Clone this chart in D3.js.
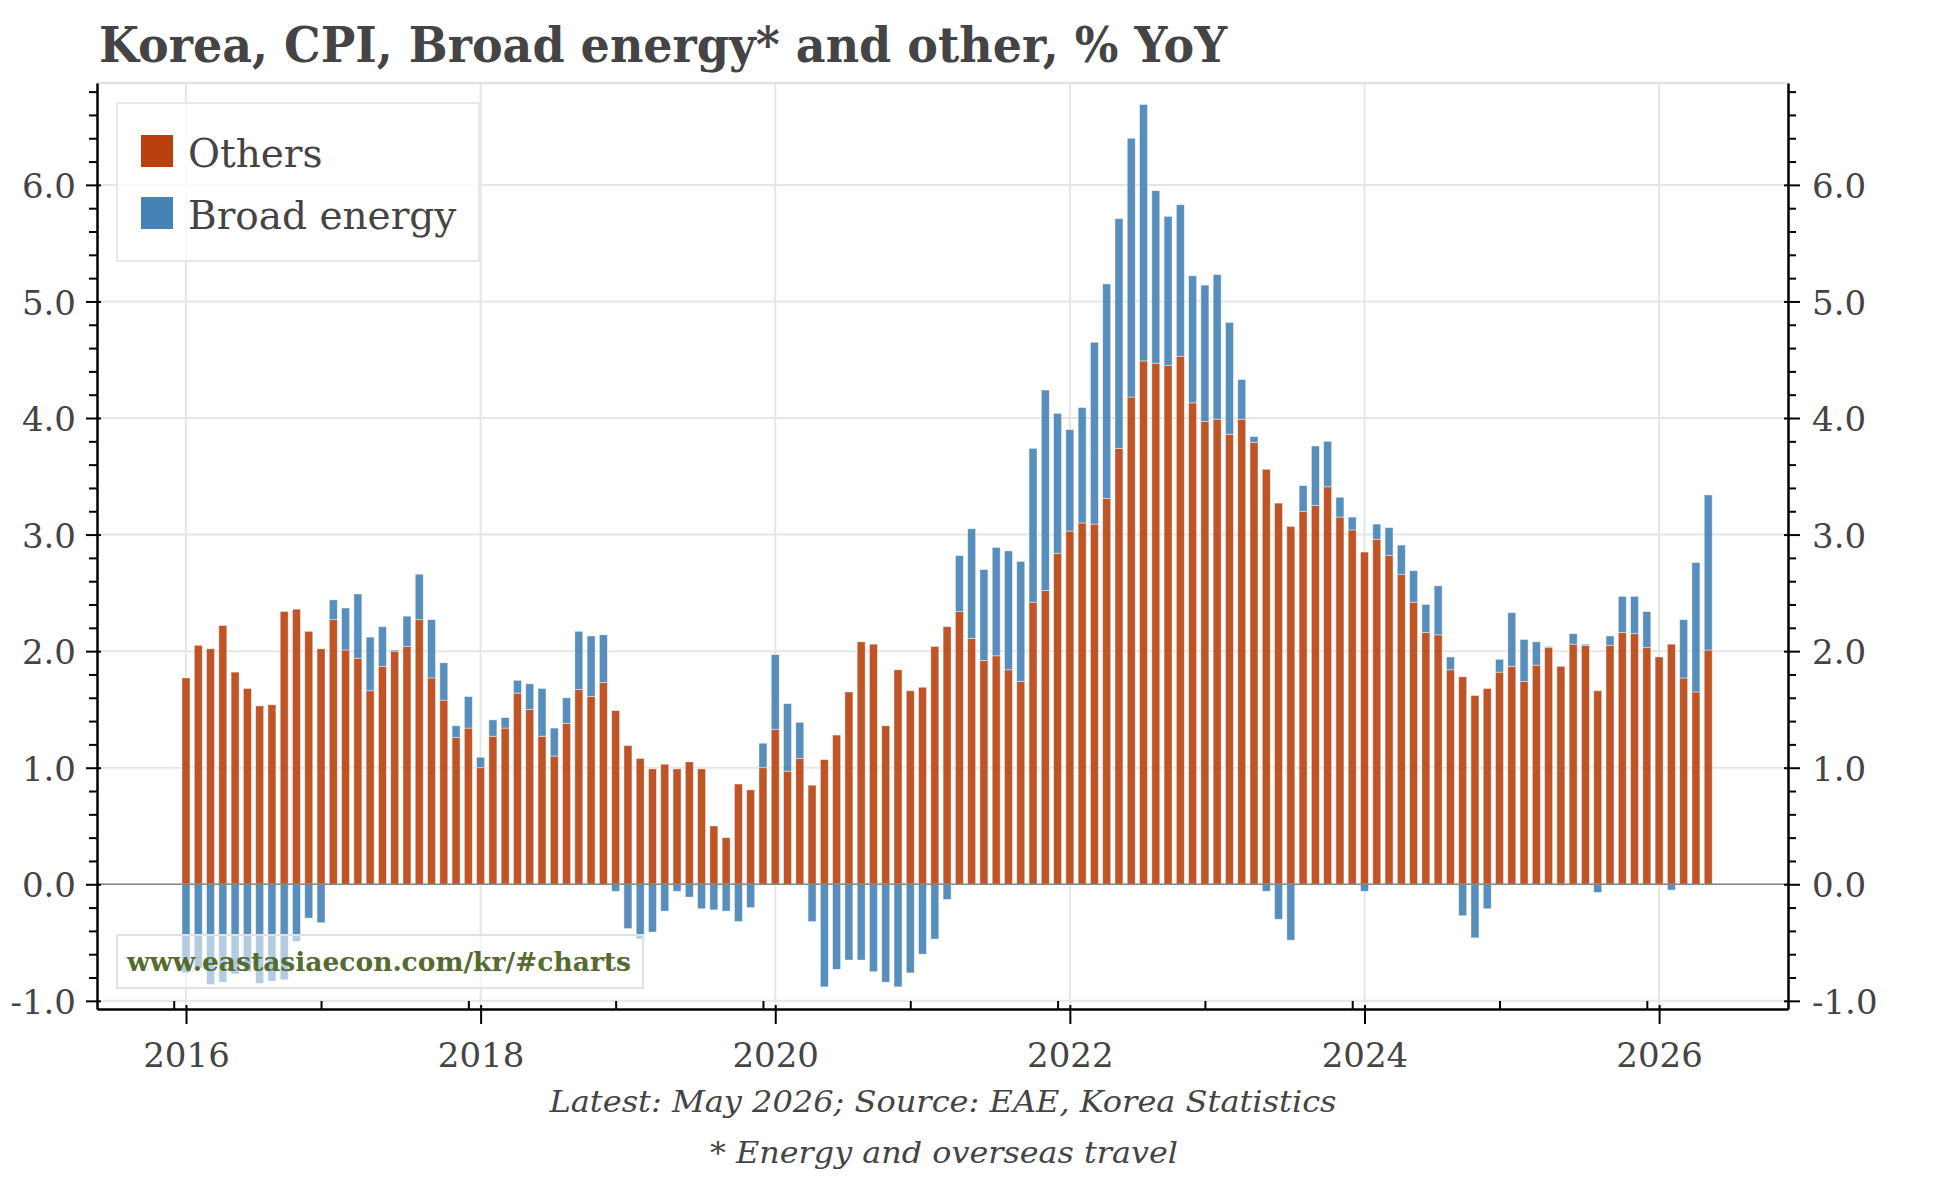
<!DOCTYPE html>
<html><head><meta charset="utf-8">
<script src="https://cdn.jsdelivr.net/npm/d3@7"></script>
<style>
html,body{margin:0;padding:0;background:#fff;}
svg{display:block;}
text{font-family:"DejaVu Serif",Georgia,serif;fill:#444;}
</style></head><body>
<svg id="chart" width="1944" height="1178"></svg>
<script>
// Monthly data, Jan 2016 .. May 2026
const startYear = 2016;
const others = [
  1.77,2.05,2.02,2.22,1.82,1.68,1.53,1.54,2.34,2.36,2.17,2.02,
  2.27,2.01,1.94,1.66,1.87,2.00,2.04,2.27,1.77,1.58,1.26,1.34,
  1.00,1.27,1.34,1.64,1.50,1.27,1.10,1.38,1.67,1.61,1.73,1.49,
  1.19,1.08,0.99,1.03,0.99,1.05,0.99,0.50,0.40,0.86,0.81,1.00,
  1.33,0.97,1.08,0.85,1.07,1.28,1.65,2.08,2.06,1.36,1.84,1.66,
  1.69,2.04,2.21,2.34,2.11,1.92,1.96,1.84,1.74,2.42,2.52,2.84,
  3.03,3.10,3.09,3.31,3.74,4.18,4.49,4.47,4.45,4.53,4.13,3.97,
  3.99,3.86,3.99,3.79,3.56,3.27,3.07,3.20,3.25,3.41,3.15,3.04,
  2.85,2.96,2.82,2.66,2.42,2.16,2.14,1.84,1.78,1.62,1.68,1.82,
  1.87,1.74,1.88,2.03,1.87,2.06,2.05,1.66,2.05,2.16,2.15,2.03,
  1.95,2.06,1.77,1.65,2.01
];
const energy = [
  -0.76,-0.72,-0.86,-0.84,-0.77,-0.75,-0.85,-0.83,-0.82,-0.49,-0.29,-0.33,
  0.17,0.36,0.55,0.46,0.34,0.01,0.26,0.39,0.50,0.32,0.10,0.27,
  0.09,0.14,0.09,0.11,0.22,0.41,0.24,0.22,0.50,0.52,0.41,-0.06,
  -0.38,-0.47,-0.41,-0.23,-0.06,-0.11,-0.21,-0.22,-0.23,-0.32,-0.20,0.21,
  0.64,0.58,0.31,-0.32,-0.88,-0.73,-0.65,-0.65,-0.75,-0.84,-0.88,-0.76,
  -0.60,-0.47,-0.13,0.48,0.94,0.78,0.93,1.02,1.03,1.32,1.72,1.20,
  0.87,0.99,1.56,1.84,1.97,2.22,2.20,1.48,1.28,1.30,1.09,1.17,
  1.24,0.96,0.34,0.05,-0.06,-0.30,-0.48,0.22,0.51,0.39,0.17,0.11,
  -0.06,0.13,0.24,0.25,0.27,0.24,0.42,0.11,-0.27,-0.46,-0.21,0.11,
  0.46,0.36,0.20,0.01,-0.01,0.09,0.01,-0.07,0.08,0.31,0.32,0.31,
  0.00,-0.05,0.50,1.11,1.33
];
const seriesKeys = ["others","energy"];
const seriesLabels = ["Others","Broad energy"];
const seriesColors = ["#B8410E","#4682B4"];
const yTicks = [-1,0,1,2,3,4,5,6];
const xTickYears = [2016,2018,2020,2022,2024,2026];
const title = "Korea, CPI, Broad energy* and other, % YoY";
const footer1 = "Latest: May 2026; Source: EAE, Korea Statistics";
const footer2 = "* Energy and overseas travel";
const watermark = "www.eastasiaecon.com/kr/#charts";

const rows = others.map((o,i)=>({i:i, others:o, energy:energy[i]}));

const svg = d3.select("#chart");
const L=97, R=1788, T=83, B=1009;
const x = d3.scaleLinear().domain([-7.25,130.5]).range([L,R]);
const y = d3.scaleLinear().domain([-1.07,6.874]).range([B,T]);
const color = d3.scaleOrdinal().domain(seriesKeys).range(seriesColors);

const majorIdx = xTickYears.map(yr=>(yr-startYear)*12);
const minorIdx = d3.range(-1, others.length, 12);
const yMinor = d3.range(-10, 69, 2).map(v=>v/10).filter(v=>Math.abs(v-Math.round(v))>1e-6);

// grid
const grid = svg.append("g");
grid.selectAll("line.h").data(yTicks).join("line")
  .attr("x1",L).attr("x2",R).attr("y1",d=>y(d)).attr("y2",d=>y(d))
  .attr("stroke","#e6e6e6").attr("stroke-width",2);
grid.selectAll("line.v").data(majorIdx).join("line")
  .attr("x1",d=>x(d)).attr("x2",d=>x(d)).attr("y1",T).attr("y2",B)
  .attr("stroke","#e6e6e6").attr("stroke-width",2);
grid.append("line").attr("x1",L).attr("x2",R).attr("y1",T).attr("y2",T)
  .attr("stroke","#e3e3e3").attr("stroke-width",2.5);

// bars
const stacked = d3.stack().keys(seriesKeys).offset(d3.stackOffsetDiverging)(rows);
const bw = 8;
svg.append("g").selectAll("g").data(stacked).join("g")
  .attr("fill",d=>color(d.key)).attr("fill-opacity",0.9)
  .selectAll("rect").data(d=>d).join("rect")
  .attr("x",d=>x(d.data.i)-bw/2).attr("width",bw)
  .attr("y",d=>y(Math.max(d[0],d[1])))
  .attr("height",d=>Math.abs(y(d[0])-y(d[1])))
  .attr("stroke","#fff").attr("stroke-opacity",0.55).attr("stroke-width",0.8);

// zero line
svg.append("line").attr("x1",L).attr("x2",R).attr("y1",y(0)).attr("y2",y(0))
  .attr("stroke","#888").attr("stroke-width",1.6);

// axes
const fmt = d=>d.toFixed(1);
function styleAxis(g, fs){
  g.selectAll(".domain").attr("stroke","#000").attr("stroke-width",2.5);
  g.selectAll(".tick line").attr("stroke","#000").attr("stroke-width",2);
  g.selectAll(".tick text").attr("fill","#444").attr("font-size",fs)
    .attr("font-family","'DejaVu Serif',Georgia,serif");
}
// left
const gl = svg.append("g").attr("transform",`translate(${L},0)`)
  .call(d3.axisLeft(y).tickValues(yTicks).tickSize(11).tickSizeOuter(0).tickPadding(10).tickFormat(fmt));
gl.selectAll(".tick line").attr("x1",4);
gl.selectAll(".tick text").attr("dy","0.37em");
styleAxis(gl,34);
const glm = svg.append("g").attr("transform",`translate(${L},0)`)
  .call(d3.axisLeft(y).tickValues(yMinor).tickSize(8).tickSizeOuter(0).tickFormat(""));
glm.select(".domain").remove();
styleAxis(glm,34);
// right
const gr = svg.append("g").attr("transform",`translate(${R},0)`)
  .call(d3.axisRight(y).tickValues(yTicks).tickSize(12).tickSizeOuter(0).tickPadding(12).tickFormat(fmt));
gr.selectAll(".tick line").attr("x1",-4);
gr.selectAll(".tick text").attr("dy","0.37em");
styleAxis(gr,34);
const grm = svg.append("g").attr("transform",`translate(${R},0)`)
  .call(d3.axisRight(y).tickValues(yMinor).tickSize(8).tickSizeOuter(0).tickFormat(""));
grm.select(".domain").remove();
styleAxis(grm,34);
// bottom
const gb = svg.append("g").attr("transform",`translate(0,${B})`)
  .call(d3.axisBottom(x).tickValues(majorIdx).tickSize(15).tickSizeOuter(0).tickPadding(19)
    .tickFormat(d=>String(startYear + d/12)));
gb.selectAll(".tick line").attr("y1",-4);
styleAxis(gb,34);
const gbm = svg.append("g").attr("transform",`translate(0,${B})`)
  .call(d3.axisBottom(x).tickValues(minorIdx).tickSize(-8).tickSizeOuter(0).tickFormat(""));
gbm.select(".domain").remove();
styleAxis(gbm,34);

// legend
const leg = svg.append("g");
leg.append("rect").attr("x",117).attr("y",103).attr("width",362).attr("height",158)
  .attr("fill","#fff").attr("fill-opacity",0.82).attr("stroke","#e8e8e8").attr("stroke-width",2);
seriesLabels.forEach((lab,k)=>{
  const yy = 135 + k*62;
  leg.append("rect").attr("x",141).attr("y",yy).attr("width",32).attr("height",32).attr("fill",seriesColors[k]);
  leg.append("text").attr("x",188).attr("y",yy+32).attr("font-size",39).text(lab);
});

// watermark
svg.append("rect").attr("x",117).attr("y",935).attr("width",526).attr("height",53)
  .attr("fill","#fff").attr("fill-opacity",0.55).attr("stroke","#e2e2e2").attr("stroke-width",2);
svg.append("text").attr("x",127).attr("y",971).attr("font-size",26).attr("font-weight","bold")
  .style("fill","#556B2F").attr("textLength",504).attr("lengthAdjust","spacingAndGlyphs").text(watermark);

// title
svg.append("text").attr("x",99).attr("y",62).attr("font-size",49).attr("font-weight","bold")
  .attr("textLength",1128).attr("lengthAdjust","spacingAndGlyphs").text(title);

// footers
svg.append("text").attr("x",943).attr("y",1112).attr("text-anchor","middle").attr("font-size",30)
  .attr("font-style","italic").attr("textLength",787).attr("lengthAdjust","spacingAndGlyphs").text(footer1);
svg.append("text").attr("x",944).attr("y",1163).attr("text-anchor","middle").attr("font-size",30)
  .attr("font-style","italic").attr("textLength",468).attr("lengthAdjust","spacingAndGlyphs").text(footer2);
</script>
</body></html>
